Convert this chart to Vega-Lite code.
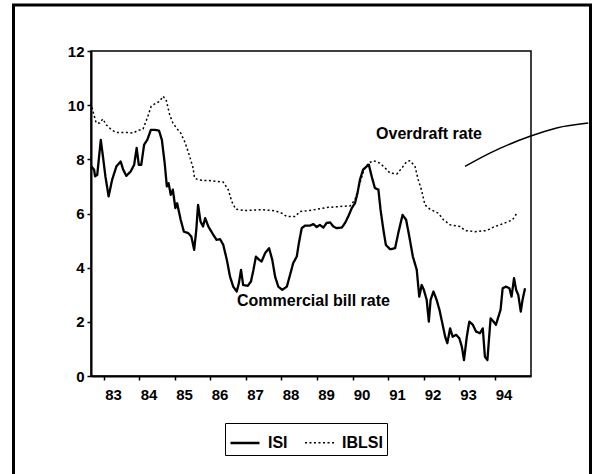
{
  "$schema": "https://vega.github.io/schema/vega-lite/v6.json",
  "width": 440,
  "height": 325,
  "autosize": {"type": "none"},
  "padding": {"left": 91, "top": 51, "right": 64, "bottom": 98},
  "background": "white",
  "config": {
    "view": {"stroke": "black", "strokeWidth": 1.5},
    "font": "Liberation Sans",
    "axis": {"grid": false, "domainColor": "black", "domainWidth": 2, "tickColor": "black", "tickWidth": 1.5, "tickSize": 4, "labelColor": "black", "labelFont": "Liberation Sans", "labelFontSize": 15, "labelFontWeight": "bold", "labelOverlap": false, "labelFlush": false, "labelBound": false}
  },
  "datasets": {
    "frame": [{"t": 1980.451, "t2": 1996.704, "v": -3.84, "v2": 13.70}],
    "notes": [
      {"label": "Overdraft rate", "t": 1992.155, "v": 8.92},
      {"label": "Commercial bill rate", "t": 1988.90, "v": 2.77}
    ],
    "pointer": [
      {"t": 1993.17, "v": 7.74},
      {"t": 1993.87, "v": 8.23},
      {"t": 1995.00, "v": 8.85},
      {"t": 1995.75, "v": 9.16},
      {"t": 1996.64, "v": 9.34}
    ],
    "rates": [
      {"s":"ISI","t":1982.64,"v":7.74},{"s":"ISI","t":1982.72,"v":7.62},{"s":"ISI","t":1982.75,"v":7.37},{"s":"ISI","t":1982.81,"v":7.43},
      {"s":"ISI","t":1982.91,"v":8.72},{"s":"ISI","t":1982.97,"v":8.11},{"s":"ISI","t":1983.04,"v":7.37},{"s":"ISI","t":1983.13,"v":6.63},
      {"s":"ISI","t":1983.23,"v":7.25},{"s":"ISI","t":1983.35,"v":7.74},{"s":"ISI","t":1983.47,"v":7.92},{"s":"ISI","t":1983.54,"v":7.62},
      {"s":"ISI","t":1983.63,"v":7.39},{"s":"ISI","t":1983.75,"v":7.55},{"s":"ISI","t":1983.85,"v":7.80},{"s":"ISI","t":1983.92,"v":8.42},
      {"s":"ISI","t":1983.98,"v":7.80},{"s":"ISI","t":1984.05,"v":7.80},{"s":"ISI","t":1984.13,"v":8.54},{"s":"ISI","t":1984.22,"v":8.72},
      {"s":"ISI","t":1984.32,"v":9.09},{"s":"ISI","t":1984.43,"v":9.09},{"s":"ISI","t":1984.55,"v":9.06},{"s":"ISI","t":1984.63,"v":8.72},
      {"s":"ISI","t":1984.71,"v":7.86},{"s":"ISI","t":1984.77,"v":7.00},{"s":"ISI","t":1984.82,"v":7.12},{"s":"ISI","t":1984.88,"v":6.69},
      {"s":"ISI","t":1984.94,"v":6.88},{"s":"ISI","t":1985.01,"v":6.20},{"s":"ISI","t":1985.06,"v":6.38},{"s":"ISI","t":1985.16,"v":5.77},
      {"s":"ISI","t":1985.25,"v":5.33},{"s":"ISI","t":1985.37,"v":5.28},{"s":"ISI","t":1985.46,"v":5.15},{"s":"ISI","t":1985.54,"v":4.66},
      {"s":"ISI","t":1985.60,"v":5.40},{"s":"ISI","t":1985.65,"v":6.32},{"s":"ISI","t":1985.72,"v":5.70},{"s":"ISI","t":1985.79,"v":5.52},
      {"s":"ISI","t":1985.85,"v":5.83},{"s":"ISI","t":1985.94,"v":5.52},{"s":"ISI","t":1986.08,"v":5.21},{"s":"ISI","t":1986.17,"v":5.03},
      {"s":"ISI","t":1986.27,"v":5.05},{"s":"ISI","t":1986.36,"v":4.84},{"s":"ISI","t":1986.46,"v":4.29},{"s":"ISI","t":1986.55,"v":3.67},
      {"s":"ISI","t":1986.64,"v":3.30},{"s":"ISI","t":1986.74,"v":3.12},{"s":"ISI","t":1986.80,"v":3.43},{"s":"ISI","t":1986.86,"v":3.92},
      {"s":"ISI","t":1986.92,"v":3.36},{"s":"ISI","t":1987.05,"v":3.33},{"s":"ISI","t":1987.14,"v":3.49},{"s":"ISI","t":1987.21,"v":3.92},
      {"s":"ISI","t":1987.28,"v":4.41},{"s":"ISI","t":1987.37,"v":4.29},{"s":"ISI","t":1987.44,"v":4.23},{"s":"ISI","t":1987.54,"v":4.54},
      {"s":"ISI","t":1987.65,"v":4.72},{"s":"ISI","t":1987.74,"v":4.29},{"s":"ISI","t":1987.82,"v":3.67},{"s":"ISI","t":1987.91,"v":3.30},
      {"s":"ISI","t":1988.02,"v":3.18},{"s":"ISI","t":1988.15,"v":3.30},{"s":"ISI","t":1988.24,"v":3.73},{"s":"ISI","t":1988.33,"v":4.17},
      {"s":"ISI","t":1988.43,"v":4.41},{"s":"ISI","t":1988.49,"v":4.91},{"s":"ISI","t":1988.57,"v":5.46},{"s":"ISI","t":1988.66,"v":5.55},
      {"s":"ISI","t":1988.80,"v":5.55},{"s":"ISI","t":1988.90,"v":5.61},{"s":"ISI","t":1988.99,"v":5.50},{"s":"ISI","t":1989.08,"v":5.58},
      {"s":"ISI","t":1989.18,"v":5.48},{"s":"ISI","t":1989.27,"v":5.65},{"s":"ISI","t":1989.37,"v":5.67},{"s":"ISI","t":1989.46,"v":5.52},
      {"s":"ISI","t":1989.55,"v":5.46},{"s":"ISI","t":1989.70,"v":5.48},{"s":"ISI","t":1989.79,"v":5.65},{"s":"ISI","t":1989.88,"v":5.89},
      {"s":"ISI","t":1989.98,"v":6.20},{"s":"ISI","t":1990.07,"v":6.38},{"s":"ISI","t":1990.14,"v":6.75},{"s":"ISI","t":1990.21,"v":7.25},
      {"s":"ISI","t":1990.30,"v":7.62},{"s":"ISI","t":1990.40,"v":7.74},{"s":"ISI","t":1990.46,"v":7.80},{"s":"ISI","t":1990.54,"v":7.37},
      {"s":"ISI","t":1990.63,"v":6.94},{"s":"ISI","t":1990.73,"v":6.88},{"s":"ISI","t":1990.79,"v":6.14},{"s":"ISI","t":1990.87,"v":5.40},
      {"s":"ISI","t":1990.94,"v":4.84},{"s":"ISI","t":1991.06,"v":4.68},{"s":"ISI","t":1991.20,"v":4.72},{"s":"ISI","t":1991.29,"v":5.28},
      {"s":"ISI","t":1991.41,"v":5.95},{"s":"ISI","t":1991.51,"v":5.77},{"s":"ISI","t":1991.60,"v":5.15},{"s":"ISI","t":1991.70,"v":4.41},
      {"s":"ISI","t":1991.81,"v":3.92},{"s":"ISI","t":1991.88,"v":2.93},{"s":"ISI","t":1991.95,"v":3.36},{"s":"ISI","t":1992.01,"v":3.18},
      {"s":"ISI","t":1992.09,"v":2.81},{"s":"ISI","t":1992.15,"v":2.01},{"s":"ISI","t":1992.20,"v":2.81},{"s":"ISI","t":1992.28,"v":3.12},
      {"s":"ISI","t":1992.37,"v":2.81},{"s":"ISI","t":1992.45,"v":2.44},{"s":"ISI","t":1992.53,"v":1.95},{"s":"ISI","t":1992.61,"v":1.45},
      {"s":"ISI","t":1992.67,"v":1.21},{"s":"ISI","t":1992.75,"v":1.76},{"s":"ISI","t":1992.82,"v":1.45},{"s":"ISI","t":1992.92,"v":1.52},
      {"s":"ISI","t":1993.01,"v":1.39},{"s":"ISI","t":1993.08,"v":1.08},{"s":"ISI","t":1993.14,"v":0.59},{"s":"ISI","t":1993.22,"v":1.45},
      {"s":"ISI","t":1993.29,"v":2.01},{"s":"ISI","t":1993.39,"v":1.89},{"s":"ISI","t":1993.48,"v":1.64},{"s":"ISI","t":1993.59,"v":1.58},
      {"s":"ISI","t":1993.67,"v":1.76},{"s":"ISI","t":1993.73,"v":0.71},{"s":"ISI","t":1993.80,"v":0.59},{"s":"ISI","t":1993.85,"v":1.45},
      {"s":"ISI","t":1993.89,"v":2.13},{"s":"ISI","t":1993.97,"v":2.01},{"s":"ISI","t":1994.04,"v":1.89},{"s":"ISI","t":1994.11,"v":2.19},
      {"s":"ISI","t":1994.17,"v":2.44},{"s":"ISI","t":1994.23,"v":3.24},{"s":"ISI","t":1994.32,"v":3.30},{"s":"ISI","t":1994.42,"v":3.24},
      {"s":"ISI","t":1994.48,"v":2.93},{"s":"ISI","t":1994.55,"v":3.61},{"s":"ISI","t":1994.61,"v":3.18},{"s":"ISI","t":1994.67,"v":2.99},
      {"s":"ISI","t":1994.74,"v":2.38},{"s":"ISI","t":1994.79,"v":2.81},{"s":"ISI","t":1994.86,"v":3.24},
      {"s":"IBLSI","t":1982.63,"v":10.08},{"s":"IBLSI","t":1982.69,"v":9.77},{"s":"IBLSI","t":1982.78,"v":9.34},{"s":"IBLSI","t":1982.88,"v":9.34},
      {"s":"IBLSI","t":1982.97,"v":9.49},{"s":"IBLSI","t":1983.06,"v":9.28},{"s":"IBLSI","t":1983.21,"v":9.09},{"s":"IBLSI","t":1983.35,"v":8.99},
      {"s":"IBLSI","t":1983.49,"v":8.99},{"s":"IBLSI","t":1983.68,"v":8.99},{"s":"IBLSI","t":1983.82,"v":8.97},{"s":"IBLSI","t":1983.96,"v":9.07},
      {"s":"IBLSI","t":1984.10,"v":9.12},{"s":"IBLSI","t":1984.22,"v":9.53},{"s":"IBLSI","t":1984.33,"v":9.96},{"s":"IBLSI","t":1984.47,"v":10.08},
      {"s":"IBLSI","t":1984.57,"v":10.14},{"s":"IBLSI","t":1984.66,"v":10.33},{"s":"IBLSI","t":1984.75,"v":10.20},{"s":"IBLSI","t":1984.85,"v":9.65},
      {"s":"IBLSI","t":1984.94,"v":9.34},{"s":"IBLSI","t":1985.04,"v":9.16},{"s":"IBLSI","t":1985.16,"v":8.97},{"s":"IBLSI","t":1985.27,"v":8.66},
      {"s":"IBLSI","t":1985.37,"v":8.29},{"s":"IBLSI","t":1985.44,"v":7.99},{"s":"IBLSI","t":1985.51,"v":7.68},{"s":"IBLSI","t":1985.55,"v":7.31},
      {"s":"IBLSI","t":1985.65,"v":7.25},{"s":"IBLSI","t":1985.79,"v":7.22},{"s":"IBLSI","t":1985.94,"v":7.22},{"s":"IBLSI","t":1986.36,"v":7.16},
      {"s":"IBLSI","t":1986.50,"v":6.88},{"s":"IBLSI","t":1986.60,"v":6.44},{"s":"IBLSI","t":1986.71,"v":6.16},{"s":"IBLSI","t":1986.97,"v":6.11},
      {"s":"IBLSI","t":1987.44,"v":6.14},{"s":"IBLSI","t":1987.82,"v":6.10},{"s":"IBLSI","t":1988.01,"v":6.01},{"s":"IBLSI","t":1988.15,"v":5.89},
      {"s":"IBLSI","t":1988.38,"v":5.89},{"s":"IBLSI","t":1988.52,"v":6.07},{"s":"IBLSI","t":1988.80,"v":6.11},{"s":"IBLSI","t":1989.27,"v":6.22},
      {"s":"IBLSI","t":1989.65,"v":6.26},{"s":"IBLSI","t":1989.93,"v":6.28},{"s":"IBLSI","t":1990.07,"v":6.51},{"s":"IBLSI","t":1990.21,"v":7.12},
      {"s":"IBLSI","t":1990.32,"v":7.62},{"s":"IBLSI","t":1990.45,"v":7.86},{"s":"IBLSI","t":1990.59,"v":7.95},{"s":"IBLSI","t":1990.77,"v":7.86},
      {"s":"IBLSI","t":1990.92,"v":7.68},{"s":"IBLSI","t":1991.06,"v":7.49},{"s":"IBLSI","t":1991.25,"v":7.46},{"s":"IBLSI","t":1991.39,"v":7.68},
      {"s":"IBLSI","t":1991.53,"v":7.92},{"s":"IBLSI","t":1991.62,"v":7.95},{"s":"IBLSI","t":1991.76,"v":7.74},{"s":"IBLSI","t":1991.85,"v":7.25},
      {"s":"IBLSI","t":1991.95,"v":6.84},{"s":"IBLSI","t":1992.04,"v":6.32},{"s":"IBLSI","t":1992.18,"v":6.16},{"s":"IBLSI","t":1992.42,"v":6.01},
      {"s":"IBLSI","t":1992.56,"v":5.77},{"s":"IBLSI","t":1992.75,"v":5.58},{"s":"IBLSI","t":1993.03,"v":5.52},{"s":"IBLSI","t":1993.17,"v":5.37},
      {"s":"IBLSI","t":1993.45,"v":5.33},{"s":"IBLSI","t":1993.78,"v":5.37},{"s":"IBLSI","t":1993.97,"v":5.50},{"s":"IBLSI","t":1994.15,"v":5.58},
      {"s":"IBLSI","t":1994.39,"v":5.70},{"s":"IBLSI","t":1994.51,"v":5.77},{"s":"IBLSI","t":1994.63,"v":6.01}
    ]
  },
  "encoding": {
    "x": {"field": "t", "type": "quantitative", "title": null,
          "scale": {"domain": [1982.634, 1995.028], "nice": false, "zero": false},
          "axis": {"values": [1983,1984,1985,1986,1987,1988,1989,1990,1991,1992,1993,1994], "labelExpr": "format(datum.value % 100, '02d')", "labelOffset": 9, "labelPadding": 7, "labelOverlap": false, "labelFlush": false, "labelBound": false, "tickCount": 12}},
    "y": {"field": "v", "type": "quantitative", "title": null,
          "scale": {"domain": [0, 12], "nice": false},
          "axis": {"values": [0,2,4,6,8,10,12], "labelPadding": 3, "labelOverlap": false}}
  },
  "layer": [
    {
      "data": {"name": "rates"},
      "mark": {"type": "line", "color": "black", "strokeJoin": "round", "strokeCap": "butt"},
      "encoding": {
        "strokeDash": {"field": "s", "type": "nominal",
              "scale": {"domain": ["ISI", "IBLSI"], "range": [[1, 0], [2, 2.5]]},
              "legend": {"title": null, "orient": "none", "legendX": 134, "legendY": 372, "direction": "horizontal",
                         "strokeColor": "black", "padding": 4, "fillColor": "white",
                         "symbolType": "stroke", "symbolSize": 841, "symbolStrokeWidth": 1.5, "symbolStrokeColor": "black",
                         "labelFont": "Liberation Sans", "labelFontSize": 16, "labelFontWeight": "bold", "labelColor": "black",
                         "labelOffset": 7, "columnPadding": 14}},
        "strokeWidth": {"field": "s", "type": "nominal", "scale": {"domain": ["ISI", "IBLSI"], "range": [2.3, 1.5]}, "legend": null}
      }
    },
    {
      "data": {"name": "frame"},
      "mark": {"type": "rect", "fillOpacity": 0, "stroke": "black", "strokeWidth": 3, "clip": false},
      "encoding": {
        "x2": {"field": "t2"},
        "y2": {"field": "v2"}
      }
    },
    {
      "data": {"name": "notes"},
      "mark": {"type": "text", "font": "Liberation Sans", "fontSize": 16, "fontWeight": "bold", "color": "black", "align": "center", "baseline": "middle"},
      "encoding": {
        "text": {"field": "label"}
      }
    },
    {
      "data": {"name": "pointer"},
      "mark": {"type": "line", "color": "black", "strokeWidth": 1.5, "interpolate": "monotone", "clip": false},
      "encoding": {}
    }
  ]
}
